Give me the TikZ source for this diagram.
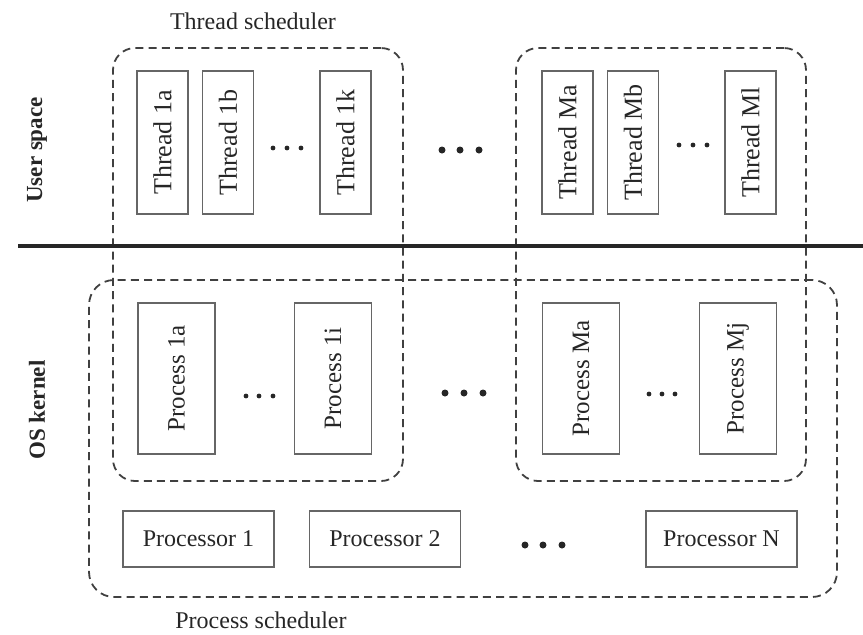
\documentclass[tikz,border=0pt]{standalone}
\usepackage{fontspec}
\setmainfont{Liberation Serif}
\begin{document}
\begin{tikzpicture}[x=0.5pt,y=-0.5pt,
  ink/.style={text=black!85},
  thread/.style={draw=black!60,line width=0.9pt,rotate=90,minimum width=71.5pt,
    minimum height=25.5pt,inner sep=0pt,font=\fontsize{13}{14}\selectfont,ink},
  proc/.style={draw=black!60,line width=0.9pt,rotate=90,minimum width=75.5pt,
    minimum height=38.5pt,inner sep=0pt,font=\fontsize{12.5}{14}\selectfont,ink},
  cpu/.style={draw=black!60,line width=0.9pt,minimum width=75.5pt,
    minimum height=28pt,inner sep=0pt,font=\fontsize{12}{14}\selectfont,ink},
  sched/.style={draw=black!75,line width=0.9pt,dash pattern=on 4pt off 2.6pt,
    rounded corners=11pt,inner sep=0pt},
  layer/.style={rotate=90,font=\bfseries\fontsize{11.5}{14}\selectfont,ink},
  caption/.style={font=\fontsize{12}{14}\selectfont,ink},
  bigdot/.style={fill=black!85},
]
\useasboundingbox (0,0) rectangle (863,634);

% scheduler groupings
\node[sched,minimum width=145pt,minimum height=216.5pt] (ts1) at (258,264.5) {};
\node[sched,minimum width=145pt,minimum height=216.5pt] (tsM) at (661,264.5) {};
\node[sched,minimum width=374pt,minimum height=158.5pt,rounded corners=12.5pt] (ps) at (463,438.5) {};

% user/kernel boundary
\coordinate (bl) at (18,246);
\coordinate (br) at (863,246);
\draw[line width=2.3pt,black!85] (bl) -- (br);

% layer labels
\node[layer] (user) at (37,150) {User space};
\node[layer] (kern) at (37,410) {OS kernel};
\node[caption] (tslab) at (253,21) {Thread scheduler};
\node[caption] (pslab) at (261,620) {Process scheduler};

% threads
\node[thread] (t1a) at (162.5,142.5) {Thread 1a};
\node[thread] (t1b) at (228,142.5) {Thread 1b};
\node[thread] (t1k) at (345.5,142.5) {Thread 1k};
\node[thread] (tMa) at (567.5,142.5) {Thread Ma};
\node[thread] (tMb) at (633,142.5) {Thread Mb};
\node[thread] (tMl) at (750.5,142.5) {Thread Ml};

% processes
\node[proc] (p1a) at (176.5,378.5) {Process 1a};
\node[proc] (p1i) at (333,378.5) {Process 1i};
\node[proc] (pMa) at (581,378.5) {Process Ma};
\node[proc] (pMj) at (738,378.5) {Process Mj};

% processors
\node[cpu] (c1) at (198.5,539) {Processor 1};
\node[cpu] (c2) at (385,539) {Processor 2};
\node[cpu] (cN) at (721.5,539) {Processor N};

% ellipses between items
\foreach \x/\y in {273/148,287/148,301/148, 679/145,693/145,707/145,
                   246/396,259/396,273/396, 649/394,662/394,675/394}
  \fill[bigdot] (\x,\y) circle (1.2pt);
\foreach \x/\y in {442/150,460/150,479/150, 445/393,464/393,483/393,
                   525/545,543/545,562/545}
  \fill[bigdot] (\x,\y) circle (1.75pt);
\end{tikzpicture}
\end{document}
